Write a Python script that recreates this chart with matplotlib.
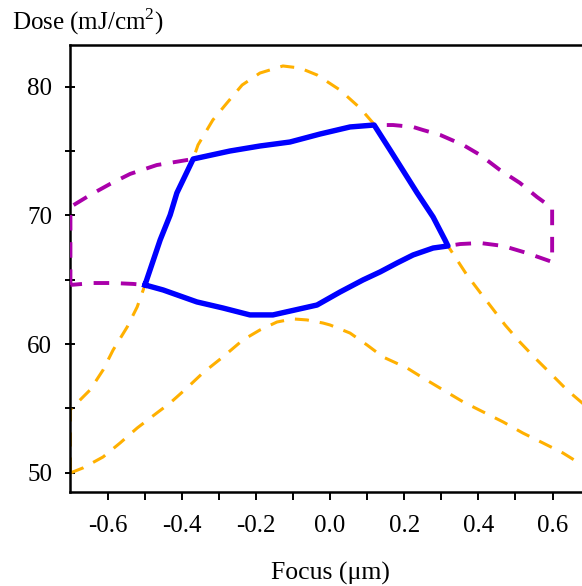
import matplotlib
matplotlib.use("Agg")
import matplotlib.pyplot as plt
from matplotlib.ticker import FixedLocator

plt.rcParams['font.family'] = ['Liberation Serif', 'DejaVu Serif']
plt.rcParams['mathtext.fontset'] = 'custom'
plt.rcParams['mathtext.rm'] = 'Liberation Serif'

# Blue: process window (closed)
blue_x = [-0.499, -0.458, -0.431, -0.413, -0.369, -0.270, -0.189, -0.108, -0.027, 0.054, 0.119,
          0.162, 0.235, 0.278, 0.310, 0.318,
          0.278, 0.224, 0.181, 0.135, 0.089, 0.027, -0.035, -0.154, -0.216, -0.289, -0.359, -0.450, -0.499]
blue_y = [64.59, 68.09, 70.03, 71.74, 74.38, 75.00, 75.39, 75.70, 76.32, 76.87, 77.02,
          75.08, 71.74, 69.87, 68.09, 67.62,
          67.46, 66.92, 66.30, 65.60, 64.98, 64.04, 63.03, 62.26, 62.26, 62.80, 63.27, 64.20, 64.59]

# Purple: exposure-latitude boundary (closed)
purple_x = [-0.700, -0.700, -0.647, -0.593, -0.539, -0.467, -0.369, -0.270, -0.189, -0.108, -0.027, 0.054, 0.119,
            0.170, 0.224, 0.251, 0.297, 0.359, 0.405, 0.458, 0.512, 0.558, 0.599, 0.599,
            0.531, 0.467, 0.405, 0.351, 0.318,
            0.278, 0.224, 0.181, 0.135, 0.089, 0.027, -0.035, -0.154, -0.216, -0.289, -0.359, -0.450, -0.499,
            -0.531, -0.585, -0.639, -0.700]
purple_y = [64.59, 70.65, 71.58, 72.44, 73.22, 73.91, 74.38, 75.00, 75.39, 75.70, 76.32, 76.87, 77.02,
            77.02, 76.87, 76.63, 76.25, 75.47, 74.69, 73.53, 72.52, 71.43, 70.57, 66.38,
            67.07, 67.62, 67.85, 67.77, 67.62,
            67.46, 66.92, 66.30, 65.60, 64.98, 64.04, 63.03, 62.26, 62.26, 62.80, 63.27, 64.20, 64.59,
            64.67, 64.74, 64.74, 64.59]

# Orange: CD-tolerance boundary (closed)
orange_x = [-0.700, -0.666, -0.612, -0.566, -0.520, -0.467, -0.431, -0.386, -0.343, -0.289, -0.235, -0.189,
            -0.143, -0.100, -0.062, -0.019, 0.000, 0.054, 0.100, 0.143, 0.208, 0.251, 0.305, 0.359, 0.413,
            0.467, 0.520, 0.574, 0.628, 0.680, 0.700,
            0.700, 0.680, 0.639, 0.599, 0.553, 0.512, 0.472, 0.437, 0.410, 0.369, 0.318, 0.278, 0.235, 0.162,
            0.116, 0.081, 0.027, -0.035, -0.081, -0.127, -0.189, -0.237, -0.278, -0.316, -0.356, -0.369,
            -0.413, -0.431, -0.458, -0.499, -0.520, -0.547, -0.585, -0.612, -0.647, -0.700, -0.700]
orange_y = [49.98, 50.37, 51.22, 52.31, 53.47, 54.64, 55.42, 56.58, 57.75, 58.99, 60.31, 61.09,
            61.71, 61.95, 61.87, 61.63, 61.48, 60.85, 59.92, 58.99, 58.13, 57.36, 56.43, 55.50, 54.72,
            53.94, 53.08, 52.31, 51.53, 50.60, 50.40,
            54.90, 55.42, 56.43, 57.59, 58.91, 60.15, 61.48, 62.80, 63.81, 65.37, 67.62, 69.87, 71.74, 75.08,
            77.18, 78.34, 79.74, 80.91, 81.45, 81.61, 81.06, 80.13, 78.73, 77.41, 75.47, 74.38,
            71.74, 70.03, 68.09, 64.59, 62.88, 61.32, 59.53, 57.98, 56.43, 54.90, 49.98]

x_major = [-0.6, -0.4, -0.2, 0.0, 0.2, 0.4, 0.6]
x_labels = ['-0.6', '-0.4', '-0.2', '0.0', '0.2', '0.4', '0.6']
x_minor = [-0.5, -0.3, -0.1, 0.1, 0.3, 0.5]
y_major = [50, 60, 70, 80]
y_minor = [55, 65, 75]

fig = plt.figure(figsize=(5.82, 5.86), dpi=100)
ax = fig.add_axes([69.5 / 582, (586 - 491.7) / 586, (589.6 - 69.5) / 582, (491.7 - 45) / 586])

ax.plot(orange_x, orange_y, color='#FFB000', lw=2.2, linestyle=(0, (4.6, 3.6)), zorder=2)
ax.plot(purple_x, purple_y, color='#AA00AA', lw=2.8, linestyle=(0, (4.0, 3.0)), zorder=3)
ax.plot(blue_x, blue_y, color='#0000FF', lw=3.9, solid_joinstyle='round', zorder=4)

ax.set_xlim(-0.7025, 0.70)
ax.set_ylim(48.52, 83.24)

ax.xaxis.set_major_locator(FixedLocator(x_major))
ax.set_xticklabels(x_labels)
ax.xaxis.set_minor_locator(FixedLocator(x_minor))
ax.yaxis.set_major_locator(FixedLocator(y_major))
ax.yaxis.set_minor_locator(FixedLocator(y_minor))

for s in ['left', 'top', 'bottom']:
    ax.spines[s].set_linewidth(1.8)
ax.spines['right'].set_visible(False)

ax.tick_params(axis='x', which='both', direction='out', length=6, width=1.4,
               labelsize=18, pad=11)
ax.tick_params(axis='y', which='both', direction='inout', length=7, width=1.4,
               labelsize=18, pad=9)

fig.text(12 / 582, 1 - 30 / 586, 'Dose (mJ/cm$^{2}$)', fontsize=18, ha='left', va='baseline')
fig.text(330 / 582, 1 - 580 / 586, 'Focus (\u03bcm)', fontsize=18.5, ha='center', va='baseline')

fig.savefig('out.png', dpi=100)
